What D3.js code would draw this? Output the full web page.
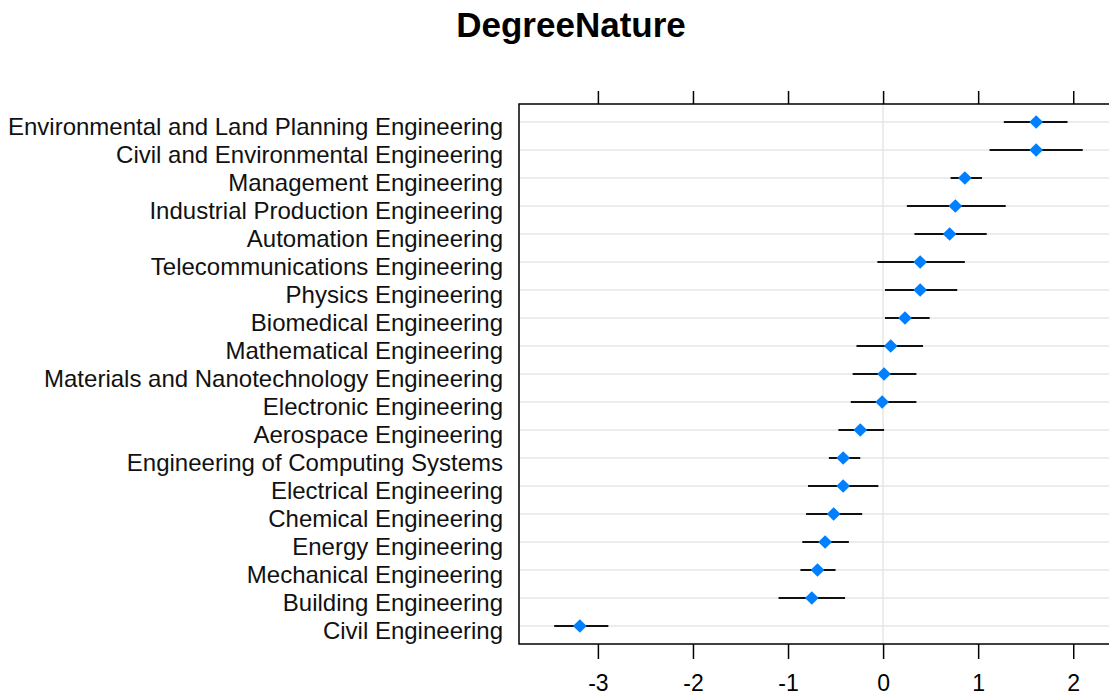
<!DOCTYPE html>
<html>
<head>
<meta charset="utf-8">
<script src="https://cdn.jsdelivr.net/npm/d3@7"></script>
<style>
  body { margin: 0; background: #fff; }
  text { font-family: "Liberation Sans", Arial, sans-serif; }
</style>
</head>
<body>
<svg id="chart" width="1109" height="700"></svg>
<script>
// categories, top to bottom
const degrees = [
  'Environmental and Land Planning Engineering',
  'Civil and Environmental Engineering',
  'Management Engineering',
  'Industrial Production Engineering',
  'Automation Engineering',
  'Telecommunications Engineering',
  'Physics Engineering',
  'Biomedical Engineering',
  'Mathematical Engineering',
  'Materials and Nanotechnology Engineering',
  'Electronic Engineering',
  'Aerospace Engineering',
  'Engineering of Computing Systems',
  'Electrical Engineering',
  'Chemical Engineering',
  'Energy Engineering',
  'Mechanical Engineering',
  'Building Engineering',
  'Civil Engineering'
]
const estimate = [1.61, 1.61, 0.86, 0.76, 0.70, 0.39, 0.39, 0.23, 0.08, 0.01, -0.01, -0.24, -0.42, -0.42, -0.52, -0.61, -0.69, -0.75, -3.19]
const lower = [1.27, 1.12, 0.71, 0.25, 0.33, -0.06, 0.02, 0.02, -0.28, -0.32, -0.34, -0.47, -0.57, -0.79, -0.81, -0.85, -0.87, -1.10, -3.46]
const upper = [1.94, 2.10, 1.04, 1.29, 1.09, 0.86, 0.78, 0.49, 0.42, 0.35, 0.35, 0.01, -0.24, -0.05, -0.22, -0.36, -0.50, -0.40, -2.89]
const xTicks = [-3, -2, -1, 0, 1, 2]

const svg = d3.select('#chart')
const panel = { left: 519, top: 104, right: 1116, bottom: 644 }

const x = d3.scaleLinear().domain([-3.83, 2.45]).range([panel.left, panel.right])
const y = d3.scalePoint().domain(degrees).range([122, 626])

const rows = degrees.map((d, i) => ({ name: d, est: estimate[i], lo: lower[i], hi: upper[i] }))

// title
svg.append('text')
  .attr('x', 571).attr('y', 37)
  .attr('text-anchor', 'middle')
  .style('font-size', '35px').style('font-weight', 'bold')
  .text('DegreeNature')

// reference line at zero
svg.append('line')
  .attr('x1', x(0)).attr('x2', x(0))
  .attr('y1', panel.top).attr('y2', panel.bottom)
  .attr('stroke', '#e6e6e6').attr('stroke-width', 1.5)

// horizontal guides
svg.selectAll('.guide')
  .data(rows)
  .enter()
  .append('line')
  .attr('x1', panel.left).attr('x2', panel.right)
  .attr('y1', d => y(d.name)).attr('y2', d => y(d.name))
  .attr('stroke', '#e6e6e6').attr('stroke-width', 1.5)

// intervals
svg.selectAll('.ci')
  .data(rows)
  .enter()
  .append('line')
  .attr('x1', d => x(d.lo)).attr('x2', d => x(d.hi))
  .attr('y1', d => y(d.name)).attr('y2', d => y(d.name))
  .attr('stroke', '#111').attr('stroke-width', 2)

// points
svg.selectAll('.pt')
  .data(rows)
  .enter()
  .append('path')
  .attr('d', d3.symbol(d3.symbolDiamond2, 120))
  .attr('transform', d => `translate(${x(d.est)},${y(d.name)})`)
  .attr('fill', '#0080ff')

// panel frame
svg.append('rect')
  .attr('x', panel.left).attr('y', panel.top)
  .attr('width', panel.right - panel.left).attr('height', panel.bottom - panel.top)
  .attr('fill', 'none').attr('stroke', '#000').attr('stroke-width', 1.5)

// bottom axis
const bottomAxis = svg.append('g')
  .attr('transform', `translate(0,${panel.bottom})`)
  .call(d3.axisBottom(x).tickValues(xTicks).tickSize(15).tickPadding(16).tickFormat(d3.format('d')))
bottomAxis.select('.domain').remove()
bottomAxis.selectAll('line').attr('stroke', '#000').attr('stroke-width', 1.5)
bottomAxis.selectAll('text').style('font-size', '23px').attr('fill', '#000')
  .style('font-family', '"Liberation Sans", Arial, sans-serif')
  .text(d => d < 0 ? '-' + Math.abs(d) : d)

// top ticks, no labels
const topAxis = svg.append('g')
  .attr('transform', `translate(0,${panel.top})`)
  .call(d3.axisTop(x).tickValues(xTicks).tickSize(13).tickFormat(''))
topAxis.select('.domain').remove()
topAxis.selectAll('line').attr('stroke', '#000').attr('stroke-width', 1.5)

// category labels
svg.selectAll('.lab')
  .data(rows)
  .enter()
  .append('text')
  .attr('x', 503)
  .attr('y', d => y(d.name))
  .attr('dy', '12.5px')
  .attr('text-anchor', 'end')
  .style('font-size', '24px')
  .attr('fill', '#111')
  .text(d => d.name)
</script>
</body>
</html>
